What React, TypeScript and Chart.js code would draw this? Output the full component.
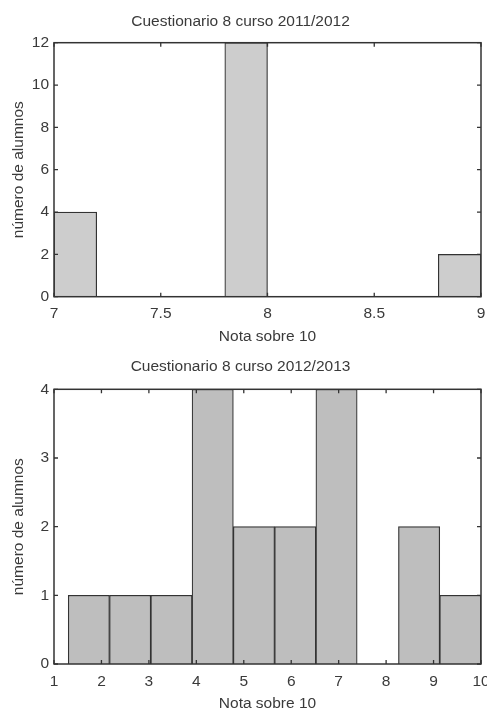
import React, { useEffect, useRef } from "react";
import { Chart, registerables } from "chart.js";

Chart.register(...registerables);

// ---- Data ----
const title1 = "Cuestionario 8 curso 2011/2012";
const binEdges1 = [7, 7.2, 7.4, 7.6, 7.8, 8, 8.2, 8.4, 8.6, 8.8, 9];
const counts1 = [4, 0, 0, 0, 12, 0, 0, 0, 0, 2];
const xTicks1 = [7, 7.5, 8, 8.5, 9];
const yTicks1 = [0, 2, 4, 6, 8, 10, 12];

const title2 = "Cuestionario 8 curso 2012/2013";
const binEdges2 = [1.3, 2.17, 3.04, 3.91, 4.78, 5.65, 6.52, 7.39, 8.26, 9.13, 10];
const counts2 = [1, 1, 1, 4, 2, 2, 4, 0, 2, 1];
const xTicks2 = [1, 2, 3, 4, 5, 6, 7, 8, 9, 10];
const yTicks2 = [0, 1, 2, 3, 4];

const xLabel = "Nota sobre 10";
const yLabel = "número de alumnos";

const FONT = "'Liberation Sans', Arial, Helvetica, sans-serif";
const FS = 15.5;
const TEXT = "#3a3a3a";
const LINE = "#333333";

const framePlugin = {
  id: "frame",
  afterDatasetsDraw(chart: any) {
    const { ctx, chartArea: a, scales } = chart;
    ctx.save();
    ctx.strokeStyle = LINE;
    ctx.lineWidth = 1.5;
    ctx.strokeRect(a.left, a.top, a.right - a.left, a.bottom - a.top);
    const L = 4;
    ctx.lineWidth = 1.3;
    ctx.beginPath();
    scales.x.ticks.forEach((_t: any, i: number) => {
      const px = scales.x.getPixelForTick(i);
      ctx.moveTo(px, a.bottom);
      ctx.lineTo(px, a.bottom - L);
      ctx.moveTo(px, a.top);
      ctx.lineTo(px, a.top + L);
    });
    scales.y.ticks.forEach((_t: any, i: number) => {
      const py = scales.y.getPixelForTick(i);
      ctx.moveTo(a.left, py);
      ctx.lineTo(a.left + L, py);
      ctx.moveTo(a.right, py);
      ctx.lineTo(a.right - L, py);
    });
    ctx.stroke();
    ctx.restore();
  },
};

type HistProps = {
  title: string;
  edges: number[];
  counts: number[];
  xTicks: number[];
  yTicks: number[];
  fill: string;
  width: number;
  height: number;
  titlePad: { top: number; bottom: number };
  xAxisHeight: number;
  bottomPad: number;
};

function Histogram(p: HistProps) {
  const ref = useRef<HTMLCanvasElement | null>(null);
  useEffect(() => {
    if (!ref.current) return;
    const data = p.counts.map((c, i) => ({ x: (p.edges[i] + p.edges[i + 1]) / 2, y: c }));
    const xMin = p.xTicks[0];
    const xMax = p.xTicks[p.xTicks.length - 1];
    const yMax = p.yTicks[p.yTicks.length - 1];
    const chart = new Chart(ref.current, {
      type: "bar",
      data: {
        datasets: [
          {
            data: data as any,
            backgroundColor: p.fill,
            borderColor: LINE,
            borderWidth: 1.2,
            barPercentage: 1,
            categoryPercentage: 1,
          },
        ],
      },
      options: {
        animation: false,
        responsive: false,
        maintainAspectRatio: false,
        layout: { padding: { left: 0, right: 6, top: 0, bottom: p.bottomPad } },
        plugins: {
          legend: { display: false },
          tooltip: { enabled: false },
          title: {
            display: true,
            text: p.title,
            color: TEXT,
            font: { family: FONT, size: FS, weight: "normal", lineHeight: 1.2 },
            padding: p.titlePad,
          },
        },
        scales: {
          x: {
            type: "linear",
            min: xMin,
            max: xMax,
            offset: false,
            grid: { display: false, drawTicks: false, offset: false },
            border: { display: false },
            afterBuildTicks: (s: any) => {
              s.ticks = p.xTicks.map((v) => ({ value: v }));
            },
            afterFit: (s: any) => {
              s.height = p.xAxisHeight;
              s.paddingLeft = 0;
              s.paddingRight = 0;
            },
            ticks: {
              color: TEXT,
              font: { family: FONT, size: FS },
              padding: 8,
              maxRotation: 0,
              autoSkip: false,
              callback: (v: any) => String(v),
            },
            title: {
              display: true,
              text: xLabel,
              color: TEXT,
              font: { family: FONT, size: FS },
              padding: { top: 0, bottom: 0 },
            },
          },
          y: {
            type: "linear",
            min: 0,
            max: yMax,
            grid: { display: false, drawTicks: false },
            border: { display: false },
            afterBuildTicks: (s: any) => {
              s.ticks = p.yTicks.map((v) => ({ value: v }));
            },
            afterFit: (s: any) => {
              s.width = 54;
              s.paddingTop = 0;
              s.paddingBottom = 0;
            },
            ticks: {
              color: TEXT,
              font: { family: FONT, size: FS },
              padding: 5,
              callback: (v: any) => String(v),
            },
            title: {
              display: true,
              text: yLabel,
              color: TEXT,
              font: { family: FONT, size: FS },
              padding: { top: 9, bottom: 0 },
            },
          },
        },
      },
      plugins: [framePlugin],
    });
    return () => chart.destroy();
  }, []);
  return <canvas ref={ref} width={p.width} height={p.height} style={{ display: "block", width: p.width, height: p.height }} />;
}

export default function App() {
  return (
    <div style={{ position: "absolute", left: 0, top: 0, width: 487, height: 709, background: "#fff", overflow: "hidden" }}>
      <div style={{ position: "absolute", left: 0, top: 0 }}>
        <Histogram
          title={title1}
          edges={binEdges1}
          counts={counts1}
          xTicks={xTicks1}
          yTicks={yTicks1}
          fill="#cdcdcd"
          width={487}
          height={350}
          titlePad={{ top: 12.7, bottom: 11.4 }}
          xAxisHeight={350 - 296.7 - 4}
          bottomPad={4}
        />
      </div>
      <div style={{ position: "absolute", left: 0, top: 340 }}>
        <Histogram
          title={title2}
          edges={binEdges2}
          counts={counts2}
          xTicks={xTicks2}
          yTicks={yTicks2}
          fill="#bebebe"
          width={487}
          height={373}
          titlePad={{ top: 17.7, bottom: 13 }}
          xAxisHeight={373 - 324}
          bottomPad={0}
        />
      </div>
    </div>
  );
}
